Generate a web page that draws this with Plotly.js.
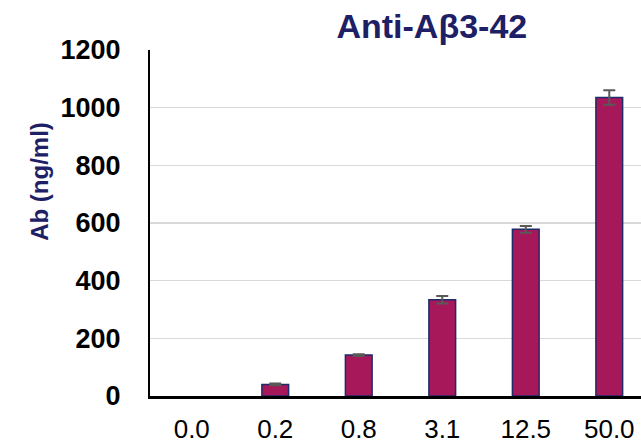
<!DOCTYPE html>
<html>
<head>
<meta charset="utf-8">
<script src="https://cdn.plot.ly/plotly-3.0.1.min.js"></script>
<style>html,body{margin:0;padding:0;background:#fff;}#chart{width:641px;height:446px;}</style>
</head>
<body>
<div id="chart"></div>
<script>
const categories = ["0.0", "0.2", "0.8", "3.1", "12.5", "50.0"];
const values = [0, 40, 142, 334, 578, 1035];
const errors = [0, 3, 3, 13, 12, 25];
const yTicks = [0, 200, 400, 600, 800, 1000, 1200];

const trace = {
  type: 'bar',
  x: categories,
  y: values,
  width: 0.32,
  marker: {color: '#A6185A', line: {color: '#1F2A6B', width: values.map(v => v > 0 ? 1.5 : 0)}},
  error_y: {type: 'data', array: errors.map((e, i) => values[i] > 0 ? e : NaN), visible: true, color: '#595959', thickness: 2, width: 6}
};

const layout = {
  width: 641, height: 446,
  margin: {l: 150, r: 0, t: 50, b: 50, pad: 0},
  paper_bgcolor: '#fff', plot_bgcolor: '#fff',
  showlegend: false,
  title: {
    text: '<b>Anti-Aβ3-42</b>',
    font: {family: 'Liberation Sans, Arial, sans-serif', size: 34, color: '#1E2066'},
    xref: 'paper', x: 0.574, xanchor: 'center',
    yref: 'container', y: 0.942, yanchor: 'middle'
  },
  xaxis: {
    type: 'category',
    range: [-0.5, 5.38],
    showline: true, linecolor: '#000', linewidth: 3,
    showgrid: false, zeroline: false,
    ticks: '', ticklabelstandoff: 8,
    tickfont: {family: 'Liberation Sans, Arial, sans-serif', size: 26, color: '#000'}
  },
  yaxis: {
    range: [0, 1200],
    tickvals: yTicks,
    ticktext: yTicks.map(v => '<b>' + v + '</b>'),
    showline: true, linecolor: '#000', linewidth: 2,
    showgrid: true, gridcolor: '#D9D9D9', gridwidth: 1.5,
    zeroline: false,
    ticks: '', ticklabelstandoff: 22,
    tickfont: {family: 'Liberation Sans, Arial, sans-serif', size: 27, color: '#000'}
  },
  annotations: [{
    text: '<b>Ab (ng/ml)</b>',
    textangle: -90,
    xref: 'paper', x: (40 - 150) / 491, xanchor: 'center',
    yref: 'paper', y: (396.5 - 182) / 346.5, yanchor: 'middle',
    showarrow: false,
    font: {family: 'Liberation Sans, Arial, sans-serif', size: 24, color: '#1E2066'}
  }]
};

Plotly.newPlot('chart', [trace], layout, {displayModeBar: false, staticPlot: true});
</script>
</body>
</html>
